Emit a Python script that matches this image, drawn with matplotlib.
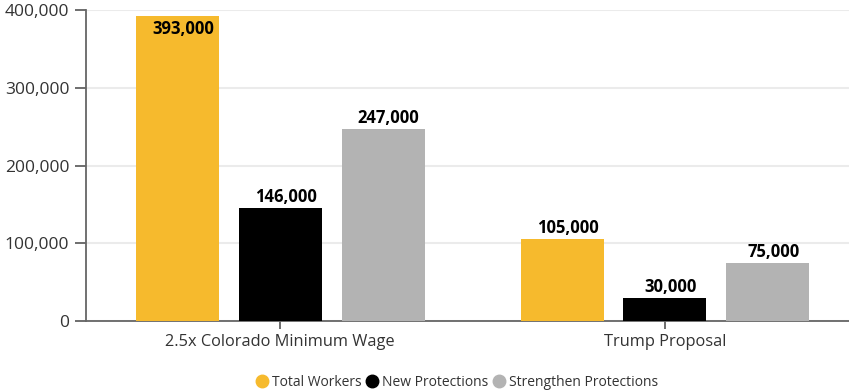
import matplotlib
matplotlib.use('Agg')
import matplotlib.pyplot as plt
import numpy as np
from matplotlib.lines import Line2D
from matplotlib.ticker import FuncFormatter

plt.rcParams['font.family'] = ['Open Sans', 'DejaVu Sans']

categories = ['2.5x Colorado Minimum Wage', 'Trump Proposal']
series_names = ['Total Workers', 'New Protections', 'Strengthen Protections']
total_workers = [393000, 105000]
new_protections = [146000, 30000]
strengthen_protections = [247000, 75000]

colors = ['#F6BA2D', '#000000', '#B3B3B3']

fig = plt.figure(figsize=(8.49, 3.91), dpi=100)
ax = fig.add_axes([0.1013, 0.179, 0.8987, 0.795])

x = np.arange(len(categories))
width = 0.2156
step = 0.2675
series = [total_workers, new_protections, strengthen_protections]
for i, (vals, c) in enumerate(zip(series, colors)):
    pos = x + (i - 1) * step
    ax.bar(pos, vals, width=width, color=c, zorder=3)
    for p, v in zip(pos, vals):
        label = '{:,}'.format(v)
        if v > 370000:
            ax.text(p + 0.015, v - 6000, label, ha='center', va='top',
                    fontsize=12, fontweight='bold', color='black', zorder=4)
        else:
            ax.text(p + 0.015, v + 2500, label, ha='center', va='bottom',
                    fontsize=12, fontweight='bold', color='black', zorder=4)

ax.set_xlim(-0.504, 1.478)
ax.set_ylim(0, 400000)
ax.set_yticks([0, 100000, 200000, 300000, 400000])
ax.yaxis.set_major_formatter(FuncFormatter(lambda v, p: '{:,}'.format(int(v))))
ax.set_xticks(x)
ax.set_xticklabels(categories)
ax.tick_params(axis='y', labelsize=12.5, length=8, width=1.2, color='#555555',
               labelcolor='#333333', pad=4)
ax.tick_params(axis='x', labelsize=11.8, length=6, width=1.2, color='#555555',
               labelcolor='#333333', pad=3)
ax.grid(axis='y', color='#EBEBEB', linewidth=1.5, zorder=0)
for s in ['top', 'right']:
    ax.spines[s].set_visible(False)
for s in ['left', 'bottom']:
    ax.spines[s].set_color('#666666')
    ax.spines[s].set_linewidth(1.3)

handles = [Line2D([], [], marker='o', linestyle='', markersize=9,
                  markerfacecolor=c, markeredgecolor=c) for c in colors]
fig.legend(handles, series_names, loc='center', bbox_to_anchor=(0.537, 0.023),
           ncol=3, frameon=False, fontsize=10, handletextpad=0.1,
           columnspacing=0.2, handlelength=1.2, labelcolor='#333333')

plt.savefig('out.png', dpi=100)
